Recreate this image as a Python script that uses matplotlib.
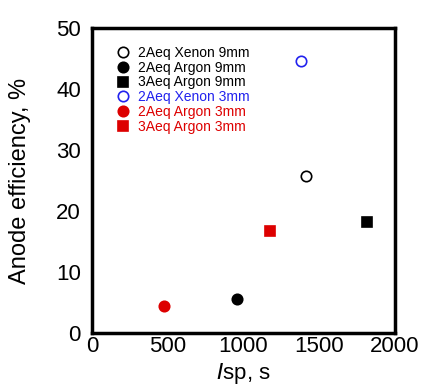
import matplotlib
matplotlib.use("Agg")
import matplotlib.pyplot as plt

plt.rcParams['font.family'] = ['Liberation Sans', 'DejaVu Sans']

labels = ["2Aeq Xenon 9mm", "2Aeq Argon 9mm", "3Aeq Argon 9mm",
          "2Aeq Xenon 3mm", "2Aeq Argon 3mm", "3Aeq Argon 3mm"]
isp = [1411, 959, 1813, 1380, 477, 1175]
eff = [25.8, 5.6, 18.2, 44.6, 4.4, 16.7]
colors = ["black", "black", "black", "#2222ee", "#dd0000", "#dd0000"]
markers = ["o", "o", "s", "o", "o", "s"]
filled = [False, True, True, False, True, True]
xticks = [0, 500, 1000, 1500, 2000]
yticks = [0, 10, 20, 30, 40, 50]

fig = plt.figure(figsize=(4.22, 3.85), dpi=100)
ax = fig.add_axes([92/422, 1-333/385, (395-92)/422, (333-28)/385])

for x, y, c, m, f, lab in zip(isp, eff, colors, markers, filled, labels):
    ax.plot([x], [y], linestyle='none', marker=m, markersize=7.5,
            markerfacecolor=c if f else 'white', markeredgecolor=c,
            markeredgewidth=1.2, label=lab)

ax.set_xlim(0, 2000)
ax.set_ylim(0, 50)
ax.set_xticks(xticks)
ax.set_yticks(yticks)
ax.tick_params(length=0, labelsize=16)
ax.tick_params(axis='y', pad=8)
ax.tick_params(axis='x', pad=2)
for s in ax.spines.values():
    s.set_linewidth(2.5)

ax.set_xlabel(r"$\mathit{I}$sp, s", fontsize=16, labelpad=3)
ax.set_ylabel("Anode efficiency, %", fontsize=17, labelpad=18)

leg = ax.legend(loc='upper left', frameon=False, fontsize=10,
                handlelength=1.0, handletextpad=0.6, labelspacing=0.06,
                borderaxespad=0.0, bbox_to_anchor=(0.06, 0.96))
for t, c in zip(leg.get_texts(), colors):
    t.set_color(c)

fig.savefig("out.png", dpi=100)
